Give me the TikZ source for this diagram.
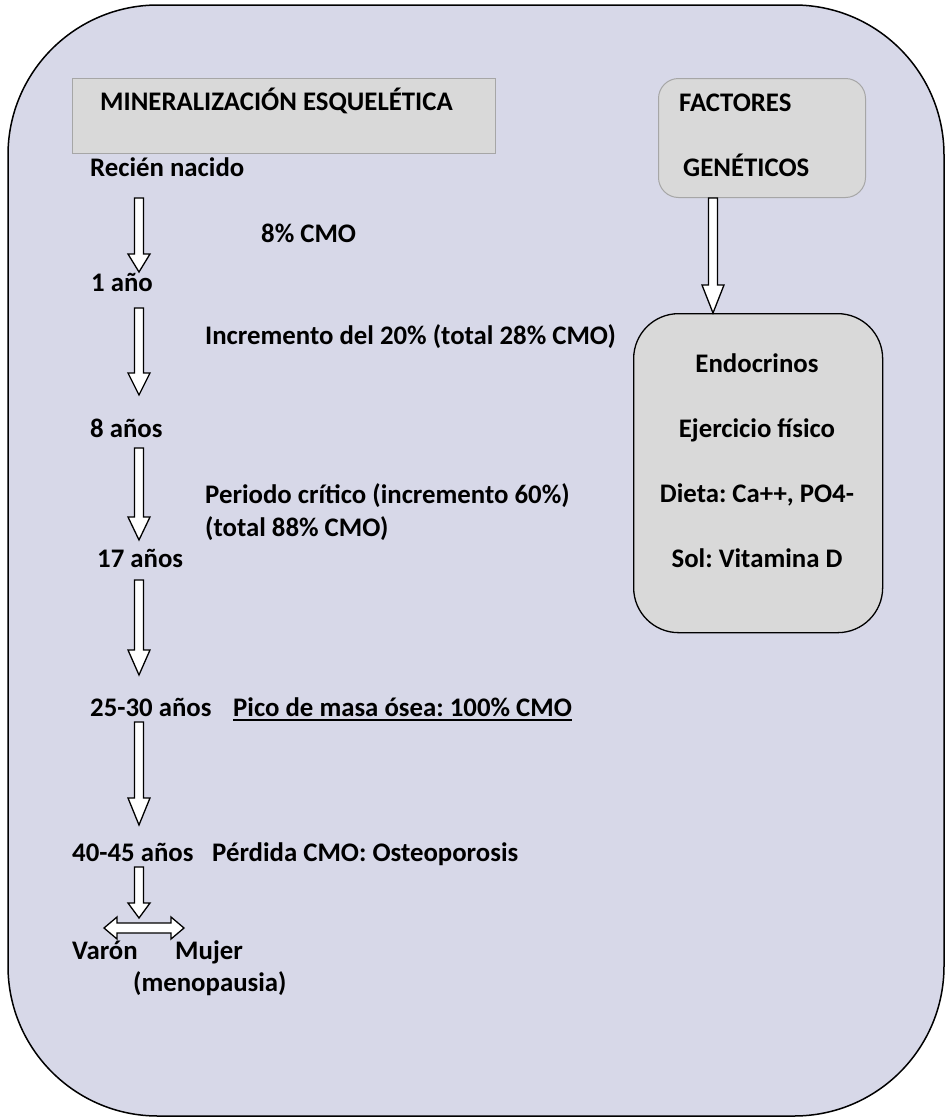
\documentclass[tikz,border=0pt]{standalone}
\usepackage{fontspec}
\setmainfont{Carlito}
\usetikzlibrary{calc}

\newlength{\du}
\setlength{\du}{1pt}

% flecha gruesa hacia abajo: #1 largo de la punta, #2 inicio, #3 fin
\newcommand{\flechabaja}[3]{%
\filldraw[flecha] ($(#2)+(-4.5,0)$)--($(#3)+(-4.5,-#1)$)--($(#3)+(-11,-#1)$)--(#3)--($(#3)+(11,-#1)$)--($(#3)+(4.5,-#1)$)--($(#2)+(4.5,0)$)--cycle;}
% flecha doble horizontal: #1 izquierda, #2 derecha
\newcommand{\flechadoble}[2]{%
\filldraw[flecha] (#1)--($(#1)+(13,-11)$)--($(#1)+(13,-5)$)--($(#2)+(-13,-5)$)--($(#2)+(-13,-11)$)--(#2)--($(#2)+(-13,11)$)--($(#2)+(-13,5)$)--($(#1)+(13,5)$)--($(#1)+(13,11)$)--cycle;}

\begin{document}
\frenchspacing
\begin{tikzpicture}[x=\du,y=-\du,
  texto/.style={anchor=base west,inner sep=0pt,font=\fontsize{26.8}{30}\selectfont\bfseries},
  flecha/.style={draw=black,fill=white,line width=1.3\du,line join=miter},
  cajagris/.style={draw=bordegris,fill=gris,line width=1\du,inner sep=0pt,anchor=north west}]
\useasboundingbox (0,0) rectangle (947,1119);
\definecolor{fondo}{RGB}{215,216,232}
\definecolor{gris}{RGB}{217,217,217}
\definecolor{bordegris}{RGB}{166,166,166}
% marco de fondo
\draw[line width=1.5\du,fill=fondo,rounded corners=150\du] (8,5) rectangle (944,1116);
% cajas
\node[cajagris,minimum width=423\du,minimum height=75\du] (mineral) at (72,78) {};
\node[texto] (titulo) at (100,110) {MINERALIZACIÓN ESQUELÉTICA};
\node[cajagris,rounded corners=20\du,minimum width=207\du,minimum height=119\du] (genet) at (658,78) {};
\node[texto] (factores) at (679,111) {FACTORES};
\node[texto] (geneticos) at (683,176) {GENÉTICOS};
\node[draw=black,fill=gris,line width=1.3\du,rounded corners=45\du,inner sep=0pt,anchor=north west,
  minimum width=249\du,minimum height=319\du] (endo) at (633,313) {};
\node[texto,anchor=base] (endocrinos) at (757,372) {Endocrinos};
\node[texto,anchor=base] (ejercicio) at (757,437) {Ejercicio físico};
\node[texto,anchor=base] (dieta) at (757,502) {Dieta: Ca++, PO4-};
\node[texto,anchor=base] (sol) at (757,567) {Sol: Vitamina D};
% etapas
\node[texto] (recien) at (90,176) {Recién nacido};
\node[texto] (cmo8) at (261,242) {8\% CMO};
\node[texto] (unano) at (91,291) {1 año};
\node[texto] (incremento) at (205,344) {Incremento del 20\% (total 28\% CMO)};
\node[texto] (ochoanos) at (90,437) {8 años};
\node[texto] (periodo) at (205,503) {Periodo crítico (incremento 60\%)};
\node[texto] (total88) at (205,536) {(total 88\% CMO)};
\node[texto] (dieciete) at (97,567) {17 años};
\node[texto] (veinti) at (90,716) {25-30 años};
\node[texto] (pico) at (233,716) {Pico de masa ósea: 100\% CMO};
\draw[line width=1.5\du] ($(pico.base west)+(0,4)$) -- ($(pico.base east)+(0,4)$);
\node[texto] (cuarenta) at (72,861) {40-45 años};
\node[texto] (perdida) at (212,861) {Pérdida CMO: Osteoporosis};
\node[texto] (varon) at (72,959) {Varón};
\node[texto] (mujer) at (175,959) {Mujer};
\node[texto] (menopausia) at (133,991) {(menopausia)};
% flechas
\coordinate (f1a) at (139,198);
\coordinate (f1b) at (139,272);
\flechabaja{18}{f1a}{f1b}
\coordinate (f2a) at (139,308);
\coordinate (f2b) at (139,395);
\flechabaja{22}{f2a}{f2b}
\coordinate (f3a) at (139,448);
\coordinate (f3b) at (139,540);
\flechabaja{23}{f3a}{f3b}
\coordinate (f4a) at (139,580);
\coordinate (f4b) at (139,675);
\flechabaja{25}{f4a}{f4b}
\coordinate (f5a) at (139,722);
\coordinate (f5b) at (139,825);
\flechabaja{27}{f5a}{f5b}
\coordinate (f6a) at (139,867);
\coordinate (f6b) at (139,918);
\flechabaja{15}{f6a}{f6b}
\coordinate (dizq) at (104,928);
\coordinate (dder) at (184,928);
\flechadoble{dizq}{dder}
\coordinate (colder) at (713,0);
\coordinate (gsal) at (genet.south -| colder);
\coordinate (eent) at (endo.north -| colder);
\flechabaja{28}{gsal}{eent}
\end{tikzpicture}
\end{document}
